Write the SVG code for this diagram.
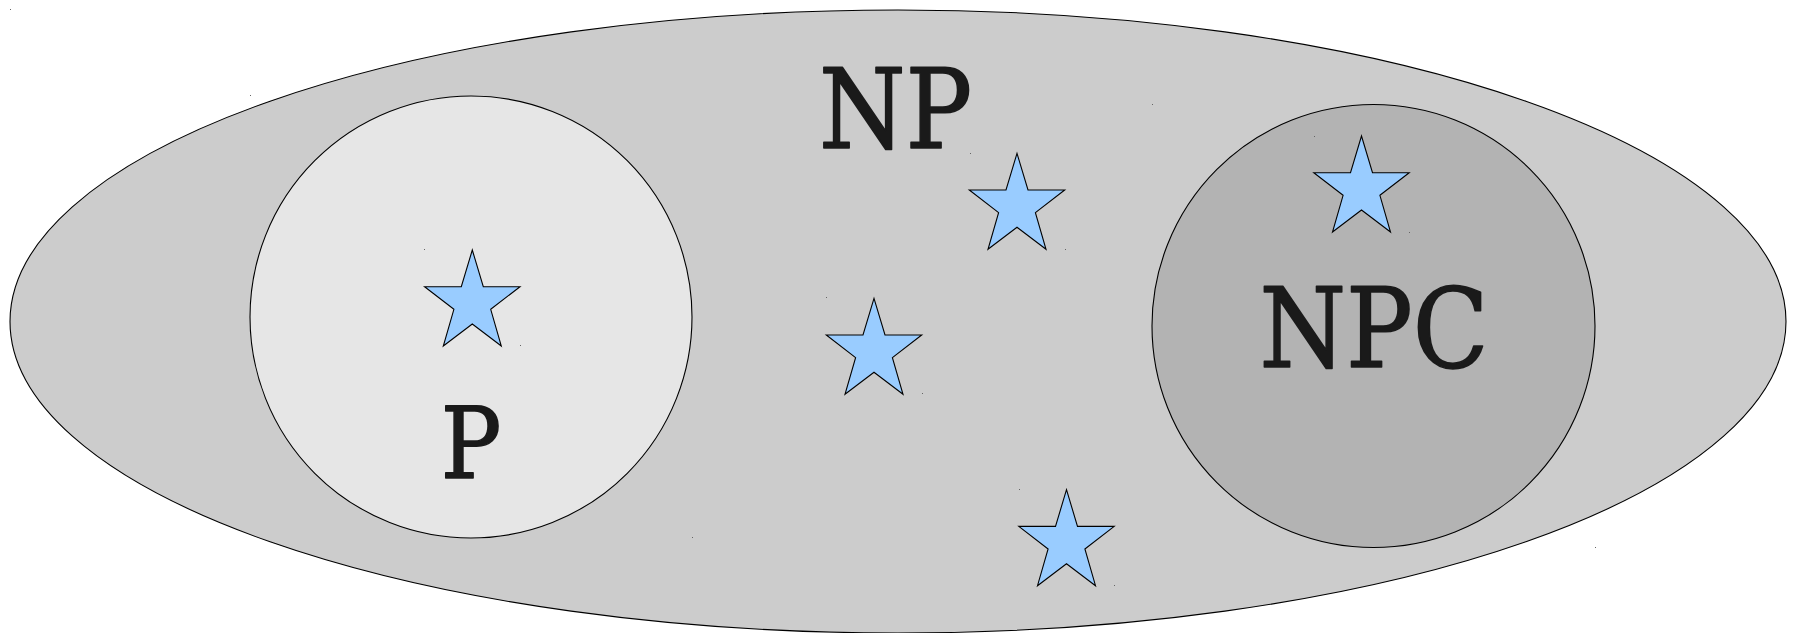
<svg xmlns="http://www.w3.org/2000/svg" xmlns:xlink="http://www.w3.org/1999/xlink" width="1794" height="633" viewBox="0 0 1794 633">
<style>
.outline{stroke:#000;stroke-width:1.1}
.lbl{font-family:"DejaVu Serif Condensed","DejaVu Serif","Liberation Serif",serif;font-stretch:condensed;fill:#1a1a1a;stroke:#1a1a1a;stroke-width:1.5;stroke-linejoin:round;text-anchor:middle}
.dot{fill:#666}
</style>
<defs>
<path id="star" d="M0,0 L11,36.7 L47.7,36.7 L18.4,59.3 L29,96 L0,74 L-29,96 L-18.4,59.3 L-47.7,36.7 L-11,36.7 Z" fill="#99ccff" stroke="#000" stroke-width="1.1" stroke-linejoin="miter"/>
</defs>
<rect width="1794" height="633" fill="#fff"/>
<g id="np">
<ellipse cx="898" cy="321.5" rx="888" ry="311.5" fill="#cccccc" class="outline"/>
<text class="lbl" x="895.5" y="147.5" font-size="110">NP</text>
</g>
<g id="p">
<circle cx="471" cy="317" r="221" fill="#e6e6e6" class="outline"/>
<text class="lbl" x="471" y="477.5" font-size="100">P</text>
</g>
<g id="npc">
<circle cx="1373.5" cy="326" r="221.5" fill="#b3b3b3" class="outline"/>
<text class="lbl" x="1374" y="366.5" font-size="110">NPC</text>
</g>
<g id="star1"><use xlink:href="#star" href="#star" x="472.3" y="250"/></g>
<g id="star2"><use xlink:href="#star" href="#star" x="874" y="298.3"/></g>
<g id="star3"><use xlink:href="#star" href="#star" x="1017" y="153.3"/></g>
<g id="star4"><use xlink:href="#star" href="#star" x="1361.5" y="136"/></g>
<g id="star5"><use xlink:href="#star" href="#star" x="1066.5" y="489.7"/></g>
<g id="connectors"></g>
<g id="marks">
<rect class="dot" x="10" y="9" width="1" height="1"/>
<rect class="dot" x="250" y="95" width="1" height="1"/>
<rect class="dot" x="692" y="537" width="1" height="1"/>
<rect class="dot" x="1152" y="104" width="1" height="1"/>
<rect class="dot" x="1595" y="547" width="1" height="1"/>
<rect class="dot" x="424" y="249" width="1" height="1"/>
<rect class="dot" x="520" y="345" width="1" height="1"/>
<rect class="dot" x="826" y="297" width="1" height="1"/>
<rect class="dot" x="922" y="393" width="1" height="1"/>
<rect class="dot" x="970" y="153" width="1" height="1"/>
<rect class="dot" x="1065" y="249" width="1" height="1"/>
<rect class="dot" x="1314" y="136" width="1" height="1"/>
<rect class="dot" x="1409" y="232" width="1" height="1"/>
<rect class="dot" x="1019" y="489" width="1" height="1"/>
<rect class="dot" x="1114" y="585" width="1" height="1"/>
</g>
</svg>
